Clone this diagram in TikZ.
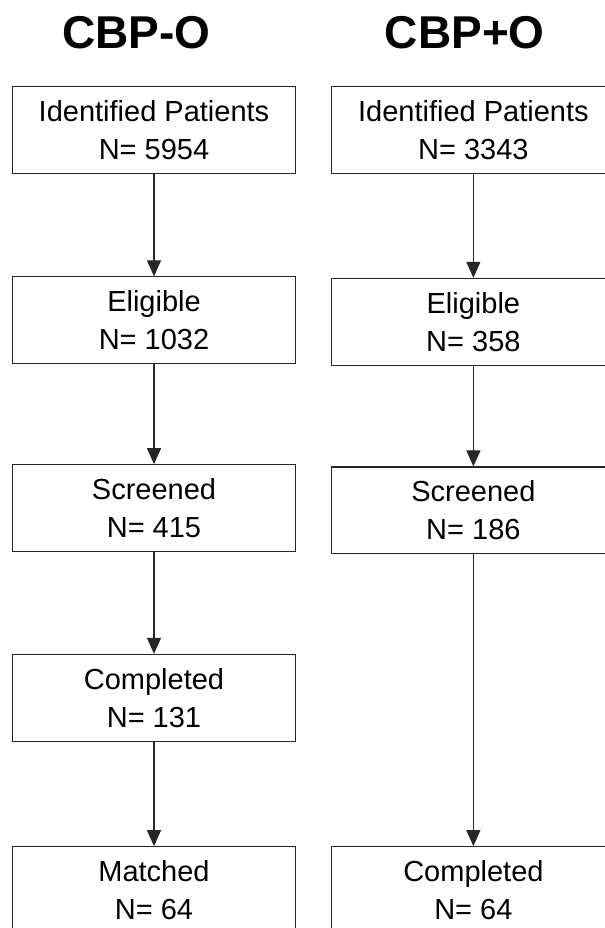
\documentclass[tikz,border=0pt]{standalone}
\usepackage{fontspec}
\setmainfont{Liberation Sans}
\usetikzlibrary{arrows.meta}
\begin{document}
\begin{tikzpicture}[x=0.75pt,y=-0.75pt,
  box/.style={draw=black!85, line width=0.8pt, minimum width=212.5pt, minimum height=65pt,
    inner sep=0pt, align=center, font=\fontsize{21.75pt}{28.5pt}\selectfont},
  flow/.style={draw=black!85, line width=0.8pt, -{Triangle[width=10.5pt,length=12pt]}},
  title/.style={font=\fontsize{34.5pt}{40pt}\selectfont\bfseries, anchor=base, inner sep=0pt}]
\clip (0,0) rectangle (605,928);
\node[title] (tl) at (136.6,48.3) {CBP-O};
\node[title] (tr) at (464.8,48.3) {CBP+O};
% left column
\node[box] (L1) at (154,130)   {Identified Patients\\N= 5954};
\node[box] (L2) at (154,320.2) {Eligible\\N= 1032};
\node[box] (L3) at (154,508)   {Screened\\N= 415};
\node[box] (L4) at (154,697.7) {Completed\\N= 131};
\node[box] (L5) at (154,890)   {Matched\\N= 64};
% right column
\node[box] (R1) at (473.4,130)   {Identified Patients\\N= 3343};
\node[box] (R2) at (473.4,321.7) {Eligible\\N= 358};
\node[box] (R3) at (473.4,510.3) {Screened\\N= 186};
\node[box] (R5) at (473.4,890)   {Completed\\N= 64};
% connectors
\draw[flow] (L1) -- (L2);
\draw[flow] (L2) -- (L3);
\draw[flow] (L3) -- (L4);
\draw[flow] (L4) -- (L5);
\draw[flow] (R1) -- (R2);
\draw[flow] (R2) -- (R3);
\draw[flow] (R3) -- (R5);
\end{tikzpicture}
\end{document}
